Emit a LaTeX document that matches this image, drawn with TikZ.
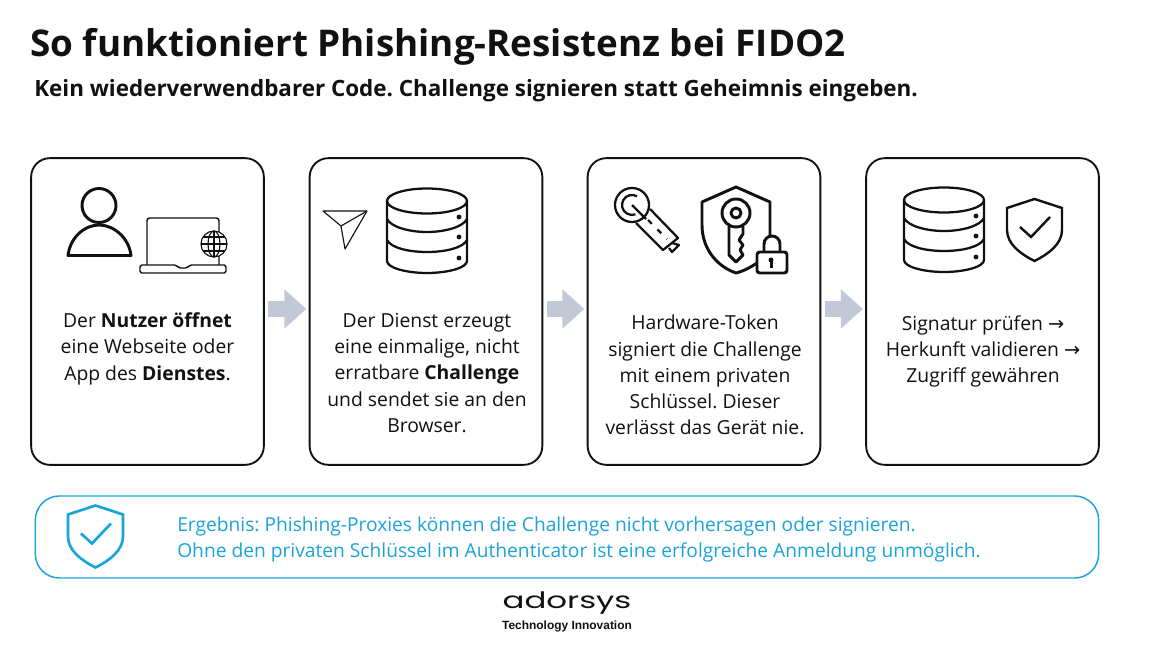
\documentclass[tikz,border=0pt]{standalone}
\usepackage{fontspec}
\setmainfont{Open Sans}
\newfontfamily\logofont{Poppins}
\newfontfamily\tagfont{Liberation Sans}
\newfontfamily\arrowfont{DejaVu Sans}
\usetikzlibrary{arrows.meta}
\frenchspacing

\definecolor{inkdark}{HTML}{111111}
\definecolor{flowgray}{HTML}{C3C8D6}
\definecolor{resultblue}{HTML}{1BA3DC}

\newcommand{\nextarrow}{{\arrowfont\fontsize{14.5}{19.7}\selectfont →}}

\tikzset{
    pics/datastack/.style={code={
        \draw[iconline] (-40,-29) -- (-40,31) .. controls (-40,38) and (-20,43) .. (0,43) .. controls (20,43) and (40,38) .. (40,31) -- (40,-29);
        \draw[iconline] (0,-29) ellipse [x radius=40, y radius=12.5];
        \draw[iconline] (-40,-11) .. controls (-36,-3) and (-18,2) .. (0,2) .. controls (18,2) and (36,-3) .. (40,-11);
        \draw[iconline] (-40,10) .. controls (-36,18) and (-18,22) .. (0,22) .. controls (18,22) and (36,18) .. (40,10);
        \foreach \dy in {-13,7,28}{
            \fill[inkdark] (32,\dy) circle [radius=2.4];
        }
    }},
    pics/shieldcheck/.style={code={
        \draw[shieldline] (0,-31) -- (27.5,-22) -- (27.5,0) .. controls (27.5,14) and (14,24) .. (0,31) .. controls (-14,24) and (-27.5,14) .. (-27.5,0) -- (-27.5,-22) -- cycle;
        \draw[shieldline] (-14.5,-3) -- (-3.5,7) -- (15.5,-13);
    }}
}

\begin{document}
\begin{tikzpicture}[
    x=0.75pt, y=-0.75pt,
    every node/.style={text=inkdark, font=\fontsize{14.5}{19.7}\selectfont},
    cardbox/.style={rectangle, draw=inkdark, line width=1.4pt, rounded corners=14pt, minimum width=174.5pt, minimum height=230pt, inner sep=0pt},
    cardtext/.style={align=center, anchor=north},
    flow/.style={draw=flowgray, line width=12.5pt, -{Triangle[length=16.5pt, width=28.5pt]}, shorten <=2.5pt, shorten >=1.8pt},
    iconline/.style={draw=inkdark, line width=1.7pt, line join=round},
    thinline/.style={draw=inkdark, line width=0.85pt, line join=round},
    boldline/.style={draw=inkdark, line width=2.2pt, line join=round},
    shieldline/.style={draw=inkdark, line width=1.8pt, line join=miter},
    bluestyle/.style={shieldline/.style={draw=resultblue, line width=2pt, line join=miter}},
    resultbox/.style={rectangle, draw=resultblue, line width=1.1pt, rounded corners=18pt, minimum width=797.5pt, minimum height=61.5pt, inner sep=0pt}
]

\useasboundingbox[fill=white] (0,0) rectangle (1152,648);

% Headings
\node[anchor=west, inner sep=0pt, font=\fontsize{27.6}{34}\selectfont\bfseries] (title) at (30,46.5) {So funktioniert Phishing-Resistenz bei FIDO2};
\node[anchor=west, inner sep=0pt, font=\fontsize{16.82}{20}\selectfont\bfseries] (subtitle) at (34,91) {Kein wiederverwendbarer Code. Challenge signieren statt Geheimnis eingeben.};

% Cards
\foreach \n/\cx in {1/147.5,2/426,3/704,4/982.5}{
    \node[cardbox] (card-\n) at (\cx,311.5) {};
}

% Arrows between cards
\foreach \n [evaluate=\n as \nextn using int(\n+1)] in {1,2,3}{
    \draw[flow] ([yshift=1.9pt]card-\n.east) -- ([yshift=1.9pt]card-\nextn.west);
}

% Card texts
\node[cardtext] (text-1) at (147.5,308) {Der \textbf{Nutzer öffnet}\\eine Webseite oder\\App des \textbf{Dienstes}.};
\node[cardtext] (text-2) at (427,308.5) {Der Dienst erzeugt\\eine einmalige, nicht\\erratbare \textbf{Challenge}\\und sendet sie an den\\Browser.};
\node[cardtext] (text-3) at (705,310.5) {Hardware-Token\\signiert die Challenge\\mit einem privaten\\Schlüssel. Dieser\\verlässt das Gerät nie.};
\node[cardtext] (text-4) at (983,310.5) {Signatur prüfen \nextarrow\\Herkunft validieren \nextarrow\\Zugriff gewähren};

% Person with laptop
\draw[boldline] (99,205.5) circle [radius=17];
\draw[boldline] (68,255.5) .. controls (70,238) and (84,225) .. (99,225) .. controls (114,225) and (129,238) .. (131,255.5) -- cycle;
\draw[thinline, line width=1.1pt, rounded corners=2pt] (147,265) -- (147,218) -- (219,218) -- (219,265);
\draw[thinline, line width=1.1pt, rounded corners=1.2pt] (140,265) -- (176,265) -- (179,268) -- (187,268) -- (190,265) -- (226,265) -- (226,273) -- (140,273) -- cycle;
\draw[thinline, fill=white] (214,244) circle [radius=13];
\draw[thinline] (214,244) ellipse [x radius=6, y radius=13];
\draw[thinline] (214,231) -- (214,257) (201,244) -- (227,244) (203,237) -- (225,237) (203,251) -- (225,251);

% Paper plane and first data stack
\draw[thinline] (323,211) -- (367,211) -- (345,249) -- (341,226) -- cycle;
\draw[thinline] (341,226) -- (367,211);
\pic at (427,230) {datastack};

% Token
\draw[iconline] (636,223) -- (663,250) -- (678,238) -- (650,209);
\draw[iconline] (672,243) -- (679,245) -- (672,252) -- (669,248);
\draw[iconline] (632,205) circle [radius=17];
\draw[iconline] (637,196.3) arc [start angle=-60, end angle=-290, radius=10];
\draw[iconline] (632,205) -- (646,219);
\draw[iconline, dash pattern=on 4pt off 6pt] (648,220) -- (667,239);

% Shield with key and lock
\draw[boldline] (770,236) -- (770,202) -- (736,187) -- (702,202) -- (702,225) .. controls (702,248) and (716,266) .. (736,273) .. controls (744,271) and (751,267) .. (757,263);
\draw[boldline] (736,213) circle [radius=14];
\draw[boldline] (736,213) circle [radius=5];
\draw[boldline] (729,226) -- (729,255) -- (736,262) -- (743,255) -- (740,250) -- (743,245) -- (739,240) -- (743,234) -- (743,226);
\draw[boldline, rounded corners=2pt] (757,252) rectangle (787,273);
\draw[boldline] (764,252) -- (764,244) arc [start angle=180, end angle=360, radius=8] -- (780,252);
\fill[inkdark] (771,260) circle [radius=2.5];
\fill[inkdark] (769.5,260) rectangle (772.5,268);

% Second data stack and shield
\pic at (944,229) {datastack};
\pic at (1034.5,230) {shieldcheck};

% Result box
\node[resultbox] (result) at (567,537) {};
\pic[bluestyle] at (95.5,536.5) {shieldcheck};
\node[anchor=west, inner sep=0pt, align=left, text=resultblue, font=\fontsize{14.4}{19.5}\selectfont] (resulttext) at (177,540) {Ergebnis: Phishing-Proxies können die Challenge nicht vorhersagen oder signieren.\\Ohne den privaten Schlüssel im Authenticator ist eine erfolgreiche Anmeldung unmöglich.};

% Logo
\node[inner sep=0pt, xscale=1.43, font=\logofont\fontsize{17}{17}\selectfont] (logo) at (567,603) {adorsys};
\node[inner sep=0pt, font=\tagfont\fontsize{8.95}{10}\selectfont\bfseries] (tagline) at (567,626) {Technology Innovation};

\end{tikzpicture}
\end{document}
